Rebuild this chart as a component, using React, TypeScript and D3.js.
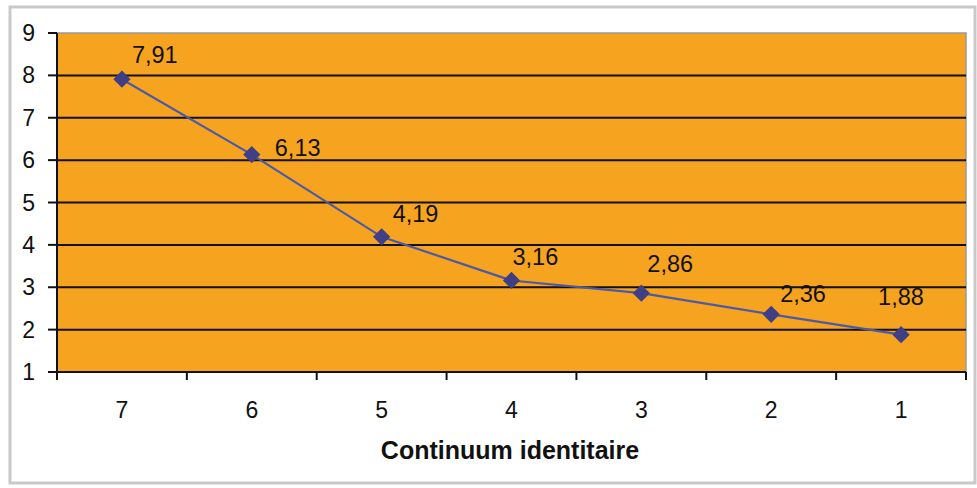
import React from "react";
import * as d3 from "d3";

const categories = ["7", "6", "5", "4", "3", "2", "1"];
const values = [7.91, 6.13, 4.19, 3.16, 2.86, 2.36, 1.88];
const valueLabels = ["7,91", "6,13", "4,19", "3,16", "2,86", "2,36", "1,88"];
const yTicks = [1, 2, 3, 4, 5, 6, 7, 8, 9];
const axisTitle = "Continuum identitaire";

// label offsets (pixels) relative to each point, as placed in the original
const labelDx = [10, 23, 11, 1, 6, 9, -23];
const labelDy = [-16, 1, -15, -15, -21, -12, -30];

const W = 977;
const H = 488;
const plot = { left: 57, top: 33, right: 966, bottom: 372 };
const font = "'Liberation Sans', Arial, sans-serif";

export default function App() {
  const x = d3
    .scaleBand<string>()
    .domain(categories)
    .range([plot.left, plot.right])
    .padding(0);
  const y = d3.scaleLinear().domain([1, 9]).range([plot.bottom, plot.top]);
  const cx = (c: string) => (x(c) ?? 0) + x.bandwidth() / 2;

  const line = d3
    .line<number>()
    .x((_, i) => cx(categories[i]))
    .y((d) => y(d));

  const boundaries = categories.map((c) => x(c) ?? 0).concat([plot.right]);
  const diamond = d3.symbol().type(d3.symbolDiamond2).size(190)();

  return (
    <svg
      width={W}
      height={H}
      style={{ position: "absolute", left: 0, top: 0, background: "#fff" }}
      fontFamily={font}
    >
      <rect x={0} y={0} width={W} height={H} fill="#fff" />
      <rect x={10} y={7} width={965} height={476} fill="#fff" stroke="#c9c9c9" strokeWidth={3} />
      <rect
        x={plot.left}
        y={plot.top}
        width={plot.right - plot.left}
        height={plot.bottom - plot.top}
        fill="#F6A31F"
        stroke="#9a9a9a"
        strokeWidth={1.5}
      />
      {yTicks.slice(1, -1).map((t) => (
        <line key={t} x1={plot.left} x2={plot.right} y1={y(t)} y2={y(t)} stroke="#111" strokeWidth={2} />
      ))}
      <line x1={plot.left} x2={plot.left} y1={plot.top} y2={plot.bottom + 7} stroke="#111" strokeWidth={2} />
      <line x1={plot.left} x2={plot.right} y1={plot.bottom} y2={plot.bottom} stroke="#111" strokeWidth={2} />
      {yTicks.map((t) => (
        <g key={t}>
          <line x1={plot.left - 9} x2={plot.left} y1={y(t)} y2={y(t)} stroke="#111" strokeWidth={2} />
          <text x={35} y={y(t)} textAnchor="end" dominantBaseline="central" fontSize={23} fill="#111">
            {t}
          </text>
        </g>
      ))}
      {boundaries.map((b, i) => (
        <line key={i} x1={b} x2={b} y1={plot.bottom} y2={plot.bottom + 8} stroke="#111" strokeWidth={2} />
      ))}
      {categories.map((c) => (
        <text key={c} x={cx(c)} y={418} textAnchor="middle" fontSize={23} fill="#111">
          {c}
        </text>
      ))}
      <text x={510} y={459} textAnchor="middle" fontSize={25} fontWeight="bold" fill="#111">
        {axisTitle}
      </text>
      <path d={line(values) ?? ""} fill="none" stroke="#4C5AA6" strokeWidth={2.2} />
      {values.map((v, i) => (
        <g key={i}>
          <path d={diamond ?? ""} transform={`translate(${cx(categories[i])},${y(v)})`} fill="#3E3F85" />
          <text x={cx(categories[i]) + labelDx[i]} y={y(v) + labelDy[i]} fontSize={23.5} fill="#111">
            {valueLabels[i]}
          </text>
        </g>
      ))}
    </svg>
  );
}
